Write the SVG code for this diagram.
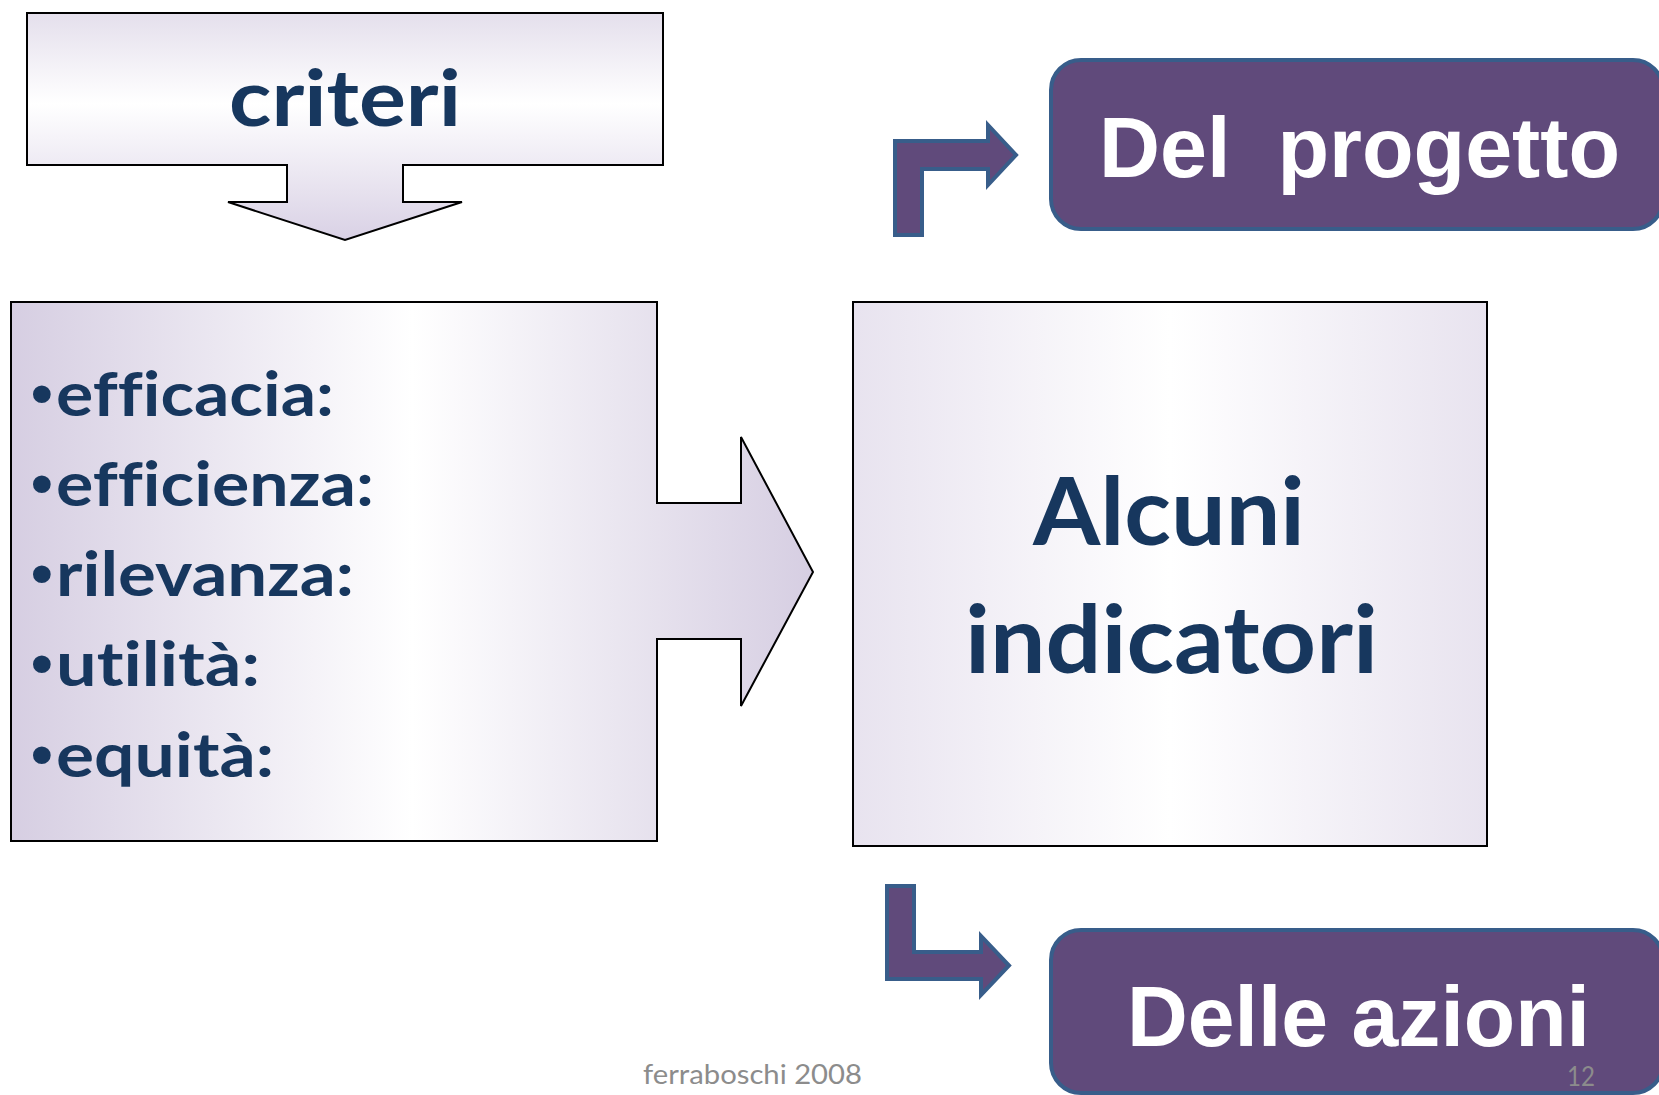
<svg xmlns="http://www.w3.org/2000/svg" width="1659" height="1095" viewBox="0 0 1659 1095">
  <defs>
    <linearGradient id="gCrit" x1="0" y1="0" x2="0" y2="1">
      <stop offset="0" stop-color="#e4dfec"/>
      <stop offset="0.4" stop-color="#ffffff"/>
      <stop offset="1" stop-color="#d9d1e5"/>
    </linearGradient>
    <linearGradient id="gLeft" x1="0" y1="0" x2="1" y2="0">
      <stop offset="0" stop-color="#d6cee2"/>
      <stop offset="0.5" stop-color="#ffffff"/>
      <stop offset="1" stop-color="#d6cee2"/>
    </linearGradient>
    <linearGradient id="gRight" x1="0" y1="0" x2="1" y2="0">
      <stop offset="0" stop-color="#e8e3ef"/>
      <stop offset="0.5" stop-color="#ffffff"/>
      <stop offset="1" stop-color="#e8e3ef"/>
    </linearGradient>
  </defs>
  <style>
    .light { stroke: #000000; stroke-width: 2; stroke-linejoin: miter; }
    .purple { fill: #604a7b; stroke: #385d8a; stroke-width: 4; }
    .navy { font-family: Lato, "Open Sans", sans-serif; font-weight: bold; fill: #17375e; font-variant-ligatures: none; font-feature-settings: "liga" 0, "clig" 0, "dlig" 0; }
    .bul { font-family: "Liberation Sans", Arial, sans-serif; font-weight: bold; fill: #17375e; font-size: 62px; }
    .white { font-family: "Liberation Sans", Arial, sans-serif; font-weight: bold; fill: #ffffff; }
    .foot { font-family: Lato, "Open Sans", sans-serif; fill: #8c8c8c; }
  </style>
  <rect x="0" y="0" width="1659" height="1095" fill="#ffffff"/>

  <g id="criteri">
    <path class="light" fill="url(#gCrit)" d="M27,13 L663,13 L663,165 L403,165 L403,202 L462,202 L345,240 L228,202 L287,202 L287,165 L27,165 Z"/>
    <text class="navy" x="229" y="126" font-size="79" textLength="232" lengthAdjust="spacingAndGlyphs">criteri</text>
  </g>

  <g id="elenco">
    <path class="light" fill="url(#gLeft)" d="M11,302 L657,302 L657,503 L741,503 L741,437 L813,572 L741,706 L741,639 L657,639 L657,841 L11,841 Z"/>
    <g class="bul">
      <text x="31" y="414">•</text>
      <text x="31" y="504">•</text>
      <text x="31" y="594">•</text>
      <text x="31" y="684">•</text>
      <text x="31" y="775">•</text>
    </g>
    <text class="navy" font-size="61">
      <tspan x="56" y="416" textLength="278" lengthAdjust="spacingAndGlyphs">efficacia:</tspan>
      <tspan x="56" y="506" textLength="318" lengthAdjust="spacingAndGlyphs">efficienza:</tspan>
      <tspan x="56" y="596" textLength="298" lengthAdjust="spacingAndGlyphs">rilevanza:</tspan>
      <tspan x="56" y="686" textLength="204" lengthAdjust="spacingAndGlyphs">utilità:</tspan>
      <tspan x="56" y="777" textLength="218" lengthAdjust="spacingAndGlyphs">equità:</tspan>
    </text>
  </g>

  <g id="indicatori">
    <rect class="light" fill="url(#gRight)" x="853" y="302" width="634" height="544"/>
    <text class="navy" font-size="93">
      <tspan x="1033" y="545" textLength="272" lengthAdjust="spacingAndGlyphs">Alcuni</tspan>
      <tspan x="965" y="673" textLength="413" lengthAdjust="spacingAndGlyphs">indicatori</tspan>
    </text>
  </g>

  <g id="progetto">
    <rect class="purple" x="1051" y="60" width="612" height="169" rx="30" ry="30"/>
    <text class="white" x="1099" y="177" font-size="86" textLength="521" lengthAdjust="spacingAndGlyphs" xml:space="preserve">Del  progetto</text>
  </g>

  <g id="azioni">
    <rect class="purple" x="1051" y="930" width="612" height="163" rx="30" ry="30"/>
    <text class="white" x="1127" y="1046" font-size="86" textLength="463" lengthAdjust="spacingAndGlyphs">Delle azioni</text>
  </g>

  <g id="connectors">
    <path class="purple" d="M895,235 L895,141 L988,141 L988,125 L1016,155 L988,185 L988,169 L922,169 L922,235 Z"/>
    <path class="purple" d="M887,886 L914,886 L914,952 L981,952 L981,936 L1009,965.5 L981,995 L981,979 L887,979 Z"/>
  </g>

  <g id="footer">
    <text class="foot" x="643" y="1084" font-size="26" textLength="219" lengthAdjust="spacingAndGlyphs">ferraboschi 2008</text>
    <text class="foot" x="1567" y="1086" font-size="26" textLength="28" lengthAdjust="spacingAndGlyphs">12</text>
  </g>
</svg>
